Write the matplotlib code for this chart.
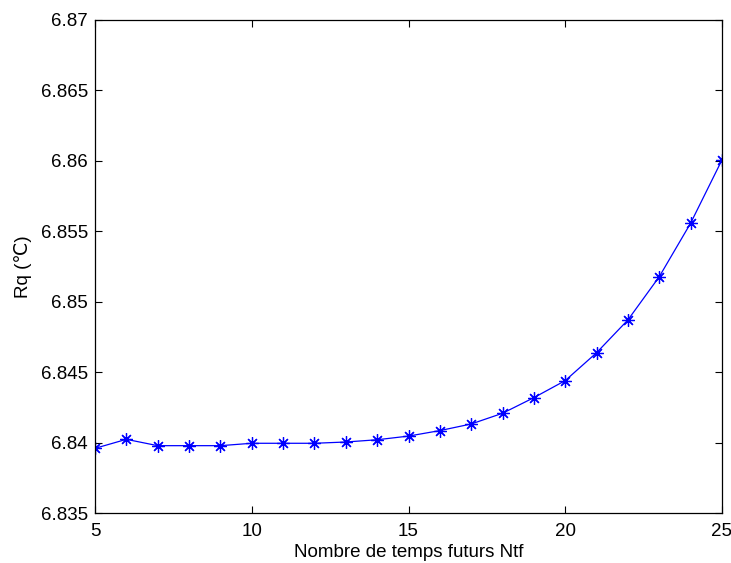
import matplotlib.pyplot as plt

plt.rcParams['font.family'] = ['Liberation Sans', 'DejaVu Sans']
plt.rcParams['font.size'] = 13.5

ntf = list(range(5, 26))
rq = [6.83959, 6.84023, 6.83978, 6.83978, 6.83978, 6.83995, 6.83995, 6.83995,
      6.84004, 6.84020, 6.84046, 6.84085, 6.84132, 6.84208, 6.84319, 6.84440,
      6.84638, 6.84871, 6.85178, 6.85558, 6.86007]

xticks = [5, 10, 15, 20, 25]
yticks = [6.835, 6.84, 6.845, 6.85, 6.855, 6.86, 6.865, 6.87]
yticklabels = ['6.835', '6.84', '6.845', '6.85', '6.855', '6.86', '6.865', '6.87']

fig = plt.figure(figsize=(7.31, 5.63), dpi=100)
ax = fig.add_axes([95/731, 1 - 513/563, (722 - 95)/731, (513 - 20)/563])

# matlab style asterisk: 8 arms
ax.plot(ntf, rq, color='#0000ff', linewidth=0.9, marker=(8, 2, 0), markersize=9,
        markeredgewidth=0.9)

ax.set_xlim(5, 25)
ax.set_ylim(6.835, 6.87)
ax.set_xticks(xticks)
ax.set_yticks(yticks)
ax.set_yticklabels(yticklabels)
ax.tick_params(direction='in', length=5, width=0.8, top=True, right=True)
ax.tick_params(axis='x', pad=7)
ax.tick_params(axis='y', pad=5)
for s in ax.spines.values():
    s.set_linewidth(0.9)

ax.set_xlabel('Nombre de temps futurs Ntf', labelpad=3)
ax.set_ylabel('Rq (℃)', labelpad=6)

fig.savefig('out.png', dpi=100)
